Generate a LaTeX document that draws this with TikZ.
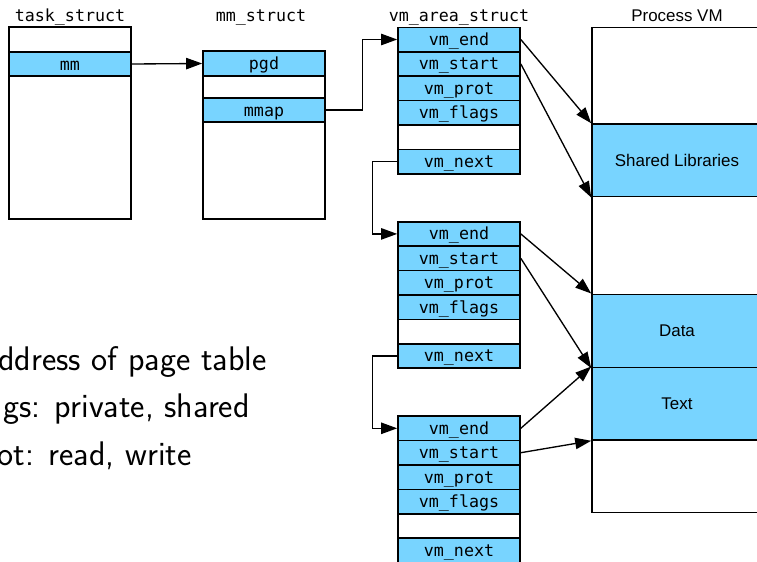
\documentclass[tikz,border=0pt]{standalone}
\usepackage{fontspec}
\newfontfamily\monofont{DejaVu Sans Mono}
\newfontfamily\arialfont{Liberation Sans}
\usetikzlibrary{arrows.meta}
\definecolor{cellblue}{RGB}{120,212,255}
\tikzset{
  cell/.style={draw,line width=1.2pt,minimum width=91.5pt,minimum height=18.3pt,inner sep=0pt,
    text height=9pt,text depth=0pt,font=\monofont\fontsize{12.5}{14}\selectfont},
  bluecell/.style={cell,fill=cellblue},
  header/.style={anchor=base,inner sep=0pt,font=\monofont\fontsize{12.5}{14}\selectfont},
  segment/.style={draw,line width=1.2pt,fill=cellblue,minimum width=127.5pt,inner sep=0pt,
    text height=9pt,text depth=0pt,font=\arialfont\fontsize{12.7}{15}\selectfont},
  note/.style={anchor=base east,inner sep=0pt,font=\sffamily\fontsize{25.6}{31}\selectfont},
  link/.style={draw,line width=1pt,-{Triangle[length=12pt,width=8.5pt]}}
}
\begin{document}
\begin{tikzpicture}[x=0.75pt,y=-0.75pt]
\useasboundingbox (0,0) rectangle (757,561);
\clip (0,0) rectangle (757,561);
\node[header] (taskhead) at (70,21) {task\_struct};
\node[cell,minimum height=144pt] (task) at (70,123) {};
\node[bluecell,minimum height=18pt] (mm) at (70,64) {mm};
\node[header] (mmhead) at (261,21) {mm\_struct};
\node[cell,minimum height=126pt] (mmstruct) at (264,135) {};
\node[bluecell,minimum height=18.75pt] (pgd) at (264,63.5) {pgd};
\node[bluecell,minimum height=18pt] (mmap) at (264,110) {mmap};
\node[header] (vmhead) at (459,21) {vm\_area\_struct};
\begin{scope}[shift={(0,0)}]
\node[bluecell] (e1) at (459,39.5) {vm\_end};
\node[bluecell] (s1) at (459,63.9) {vm\_start};
\node[bluecell] (p1) at (459,88.3) {vm\_prot};
\node[bluecell] (f1) at (459,112.7) {vm\_flags};
\node[cell] (w1) at (459,137.1) {};
\node[bluecell] (n1) at (459,161.5) {vm\_next};
\end{scope}
\begin{scope}[shift={(0,194.4)}]
\node[bluecell] (e2) at (459,39.5) {vm\_end};
\node[bluecell] (s2) at (459,63.9) {vm\_start};
\node[bluecell] (p2) at (459,88.3) {vm\_prot};
\node[bluecell] (f2) at (459,112.7) {vm\_flags};
\node[cell] (w2) at (459,137.1) {};
\node[bluecell] (n2) at (459,161.5) {vm\_next};
\end{scope}
\begin{scope}[shift={(0,388.8)}]
\node[bluecell] (e3) at (459,39.5) {vm\_end};
\node[bluecell] (s3) at (459,63.9) {vm\_start};
\node[bluecell] (p3) at (459,88.3) {vm\_prot};
\node[bluecell] (f3) at (459,112.7) {vm\_flags};
\node[cell] (w3) at (459,137.1) {};
\node[bluecell] (n3) at (459,161.5) {vm\_next};
\end{scope}
\node[header,font=\arialfont\fontsize{12.7}{15}\selectfont] (prochead) at (677,21) {Process VM};
\node[cell,minimum width=127.5pt,minimum height=364pt] (procvm) at (677,270) {};
\node[segment,minimum height=54.5pt] (shlib) at (677,160.35) {Shared Libraries};
\node[segment,minimum height=54.75pt] (data) at (677,330.8) {Data};
\node[segment,minimum height=54.5pt] (text) at (677,403.65) {Text};
\node[note] (pgdnote) at (267,370) {address of page table};
\node[note] (flagnote) at (250,417) {ngs: private, shared};
\node[note] (protnote) at (192,465) {ot: read, write};
\path[link] (mm.east) -- (pgd.west);
\path[link] (mmap.east) -- ++(37,0) |- (e1.west);
\path[link] (n1.west) -- ++(-24.4,0) |- (e2.west);
\path[link] (n2.west) -- ++(-24.4,0) |- (e3.west);
\path[link] (e1.east) -- (shlib.north west);
\path[link] (s1.east) -- (shlib.south west);
\path[link] (e2.east) -- (data.north west);
\path[link] (s2.east) -- (data.south west);
\path[link] (e3.east) -- (text.north west);
\path[link] (s3.east) -- (text.south west);
\end{tikzpicture}
\end{document}
